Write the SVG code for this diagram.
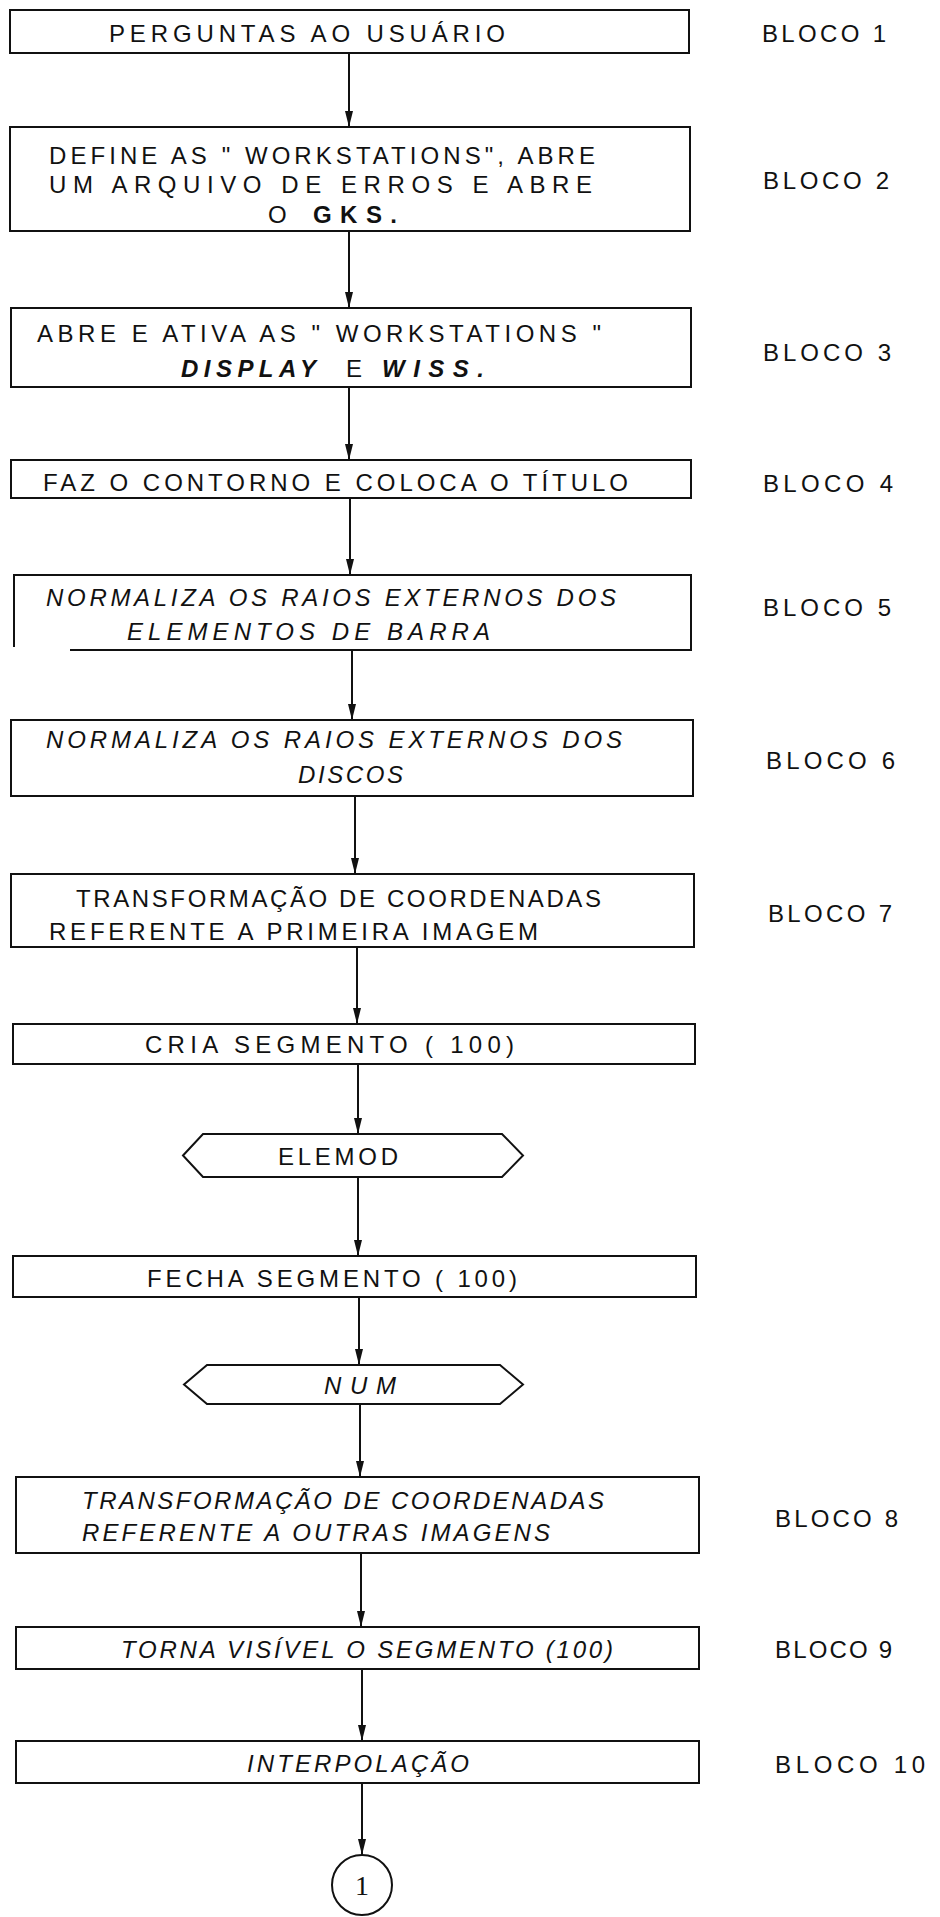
<svg xmlns="http://www.w3.org/2000/svg" width="940" height="1917" viewBox="0 0 940 1917">
<style>
.bx{fill:none;stroke:#111;stroke-width:2}
.t{font-family:"Liberation Sans","DejaVu Sans",sans-serif;font-size:24px;fill:#111;text-anchor:start}
.i{font-style:italic}
.b{font-weight:bold;font-style:italic}
.bu{font-weight:bold}
.lbl{font-family:"Liberation Sans","DejaVu Sans",sans-serif;font-size:24px;fill:#111}
.ln{stroke:#111;stroke-width:2;fill:none;marker-end:url(#ah)}
</style>
<defs>
<marker id="ah" viewBox="0 0 16 8" refX="16" refY="4" markerWidth="16" markerHeight="8" markerUnits="userSpaceOnUse" orient="auto">
<path d="M0,0 L16,4 L0,8 Z" fill="#111"/>
</marker>
</defs>
<rect width="940" height="1917" fill="#fff"/>

<g id="connectors">
<line class="ln" x1="349" y1="53" x2="349" y2="127"/>
<line class="ln" x1="349" y1="231" x2="349" y2="308"/>
<line class="ln" x1="349" y1="387" x2="349" y2="460"/>
<line class="ln" x1="350" y1="498" x2="350" y2="575"/>
<line class="ln" x1="352" y1="650" x2="352" y2="720"/>
<line class="ln" x1="355" y1="796" x2="355" y2="874"/>
<line class="ln" x1="357" y1="947" x2="357" y2="1024"/>
<line class="ln" x1="358" y1="1064" x2="358" y2="1134"/>
<line class="ln" x1="358" y1="1177" x2="358" y2="1256"/>
<line class="ln" x1="359" y1="1297" x2="359" y2="1365"/>
<line class="ln" x1="360" y1="1404" x2="360" y2="1477"/>
<line class="ln" x1="361" y1="1553" x2="361" y2="1627"/>
<line class="ln" x1="362" y1="1669" x2="362" y2="1741"/>
<line class="ln" x1="362" y1="1783" x2="362" y2="1855"/>
</g>

<g id="bloco1">
<rect class="bx" x="10" y="10" width="679" height="43"/>
<text class="t" x="109" y="42" textLength="396">PERGUNTAS AO USUÁRIO</text>
<text class="lbl" x="762" y="42" textLength="124">BLOCO 1</text>
</g>

<g id="bloco2">
<rect class="bx" x="10" y="127" width="680" height="104"/>
<text class="t" x="49" y="164" textLength="546">DEFINE AS " WORKSTATIONS", ABRE</text>
<text class="t" x="49" y="193" textLength="543">UM ARQUIVO DE ERROS E ABRE</text>
<text class="t" x="268" y="223">O</text>
<text class="t bu" x="313" y="223" textLength="84">GKS.</text>
<text class="lbl" x="763" y="189" textLength="126">BLOCO 2</text>
</g>

<g id="bloco3">
<rect class="bx" x="11" y="308" width="680" height="79"/>
<text class="t" x="37" y="342" textLength="564">ABRE E ATIVA AS " WORKSTATIONS "</text>
<text class="t b" x="181" y="377" textLength="135">DISPLAY</text>
<text class="t" x="346" y="377">E</text>
<text class="t b" x="382" y="377" textLength="102">WISS.</text>
<text class="lbl" x="763" y="361" textLength="128">BLOCO 3</text>
</g>

<g id="bloco4">
<rect class="bx" x="11" y="460" width="680" height="38"/>
<text class="t" x="43" y="491" textLength="585">FAZ O CONTORNO E COLOCA O TÍTULO</text>
<text class="lbl" x="763" y="492" textLength="130">BLOCO 4</text>
</g>

<g id="bloco5">
<path class="bx" d="M14,647 L14,575 L691,575 L691,650 L70,650"/>
<text class="t i" x="46" y="606" textLength="570">NORMALIZA OS RAIOS EXTERNOS DOS</text>
<text class="t i" x="127" y="640" textLength="363">ELEMENTOS DE BARRA</text>
<text class="lbl" x="763" y="616" textLength="128">BLOCO 5</text>
</g>

<g id="bloco6">
<rect class="bx" x="11" y="720" width="682" height="76"/>
<text class="t i" x="46" y="748" textLength="576">NORMALIZA OS RAIOS EXTERNOS DOS</text>
<text class="t i" x="298" y="783" textLength="105">DISCOS</text>
<text class="lbl" x="766" y="769" textLength="129">BLOCO 6</text>
</g>

<g id="bloco7">
<rect class="bx" x="11" y="874" width="683" height="73"/>
<text class="t" x="76" y="907" textLength="525">TRANSFORMAÇÃO DE COORDENADAS</text>
<text class="t" x="49" y="940" textLength="489">REFERENTE A PRIMEIRA IMAGEM</text>
<text class="lbl" x="768" y="922" textLength="124">BLOCO 7</text>
</g>

<g id="cria">
<rect class="bx" x="13" y="1024" width="682" height="40"/>
<text class="t" x="145" y="1053" textLength="369">CRIA SEGMENTO ( 100)</text>
</g>

<g id="elemod">
<path class="bx" d="M183,1155.5 L203,1134 L502,1134 L523,1155.5 L502,1177 L203,1177 Z"/>
<text class="t" x="278" y="1165" textLength="120">ELEMOD</text>
</g>

<g id="fecha">
<rect class="bx" x="13" y="1256" width="683" height="41"/>
<text class="t" x="147" y="1287" textLength="370">FECHA SEGMENTO ( 100)</text>
</g>

<g id="num">
<path class="bx" d="M184,1384.5 L207,1365 L500,1365 L523,1384.5 L500,1404 L207,1404 Z"/>
<text class="t i" x="324" y="1394" textLength="72">NUM</text>
</g>

<g id="bloco8">
<rect class="bx" x="16" y="1477" width="683" height="76"/>
<text class="t i" x="82" y="1509" textLength="522">TRANSFORMAÇÃO DE COORDENADAS</text>
<text class="t i" x="82" y="1541" textLength="468">REFERENTE A OUTRAS IMAGENS</text>
<text class="lbl" x="775" y="1527" textLength="123">BLOCO 8</text>
</g>

<g id="bloco9">
<rect class="bx" x="16" y="1627" width="683" height="42"/>
<text class="t i" x="121" y="1658" textLength="492">TORNA VISÍVEL O SEGMENTO (100)</text>
<text class="lbl" x="775" y="1658" textLength="117">BLOCO 9</text>
</g>

<g id="bloco10">
<rect class="bx" x="16" y="1741" width="683" height="42"/>
<text class="t i" x="247" y="1772" textLength="222">INTERPOLAÇÃO</text>
<text class="lbl" x="775" y="1773" textLength="150">BLOCO 10</text>
</g>

<g id="conector1">
<circle class="bx" cx="362" cy="1885" r="30"/>
<text x="362" y="1895" text-anchor="middle" font-family="'Liberation Serif','DejaVu Serif',serif" font-size="28" fill="#111">1</text>
</g>
</svg>
